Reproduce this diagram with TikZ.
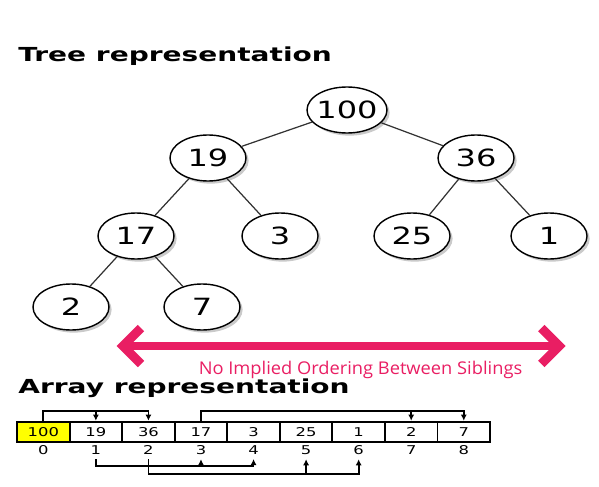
\documentclass[tikz,border=0pt]{standalone}
\usepackage{fontspec}
\usetikzlibrary{shapes.geometric,shadows,arrows.meta}
\newfontfamily\treefont[FakeStretch=1.35]{DejaVu Sans}
\newfontfamily\headfont[FakeStretch=1.45]{DejaVu Sans}
\newfontfamily\cellfont[FakeStretch=1.35]{DejaVu Sans}
\newfontfamily\notefont[FakeStretch=1.04]{Open Sans}
\definecolor{sibpink}{RGB}{233,30,99}
\definecolor{heapyellow}{RGB}{255,255,0}
\tikzset{
  heapnode/.style={ellipse,draw,line width=0.8pt,fill=white,minimum width=1.52cm,minimum height=0.92cm,inner sep=0pt,
    drop shadow={shadow xshift=1.5pt,shadow yshift=-1.5pt,opacity=0.35,fill=black!60},
    font=\treefont\fontsize{13.5}{15}\selectfont},
  heapedge/.style={black!80,line width=0.7pt},
  cell/.style={draw,line width=1.1pt,minimum width=1.0512cm,minimum height=0.4cm,inner sep=0pt,font=\cellfont\fontsize{6.9}{8}\selectfont},
  idx/.style={inner sep=2.5pt,font=\cellfont\fontsize{6.9}{8}\selectfont},
  link/.style={line width=1pt,-{Latex[length=3.5pt,width=3.5pt]}},
  sib/.style={sibpink,line width=5.1pt},
  heading/.style={anchor=base west,inner sep=0pt,font=\headfont\bfseries\fontsize{11}{13}\selectfont}
}

\begin{document}
\begin{tikzpicture}
            \useasboundingbox (0,0) rectangle (11.98,9.72);

            \node[heading] (treehead) at (0.36,8.49) {Tree representation};

            \node[heapnode,minimum width=1.6cm,inner xsep=-2pt] (n100) at (6.94,7.52) {100};
            \node[heapnode] (n19) at (4.16,6.56) {19};
            \node[heapnode] (n36) at (9.52,6.56) {36};
            \node[heapnode] (n17) at (2.72,5.00) {17};
            \node[heapnode] (n3) at (5.60,5.00) {3};
            \node[heapnode] (n25) at (8.24,5.00) {25};
            \node[heapnode] (n1) at (10.98,5.00) {1};
            \node[heapnode] (n2) at (1.42,3.58) {2};
            \node[heapnode] (n7) at (4.04,3.58) {7};
            \foreach \a/\b in {n100/n19,n100/n36,n19/n17,n19/n3,n36/n25,n36/n1,n17/n2,n17/n7}
                \draw[heapedge] (\a) -- (\b);

            \coordinate (sibL) at (2.46,2.8);
            \coordinate (sibR) at (11.186,2.8);
            \draw[sib] (sibL) -- (sibR);
            \draw[sib,line join=miter] (sibL) ++(0.36,0.36) -- (sibL) -- ++(0.36,-0.36);
            \draw[sib,line join=miter] (sibR) ++(-0.36,0.36) -- (sibR) -- ++(-0.36,-0.36);
            \node[sibpink,anchor=base,inner sep=0pt,font=\notefont\fontsize{10}{12}\selectfont] (sibnote) at (7.21,2.234) {No Implied Ordering Between Siblings};

            \node[heading] (arrayhead) at (0.36,1.85) {Array representation};

            \foreach \v/\f [count=\i from 0] in {100/heapyellow,19/white,36/white,17/white,3/white,25/white,1/white,2/white,7/white}
                \node[cell,fill=\f] (c\i) at ({0.866+1.0512*\i},1.086) {\v};
            \foreach \i in {0,...,8}
                \node[idx,anchor=base] (i\i) at ([yshift=-0.232cm]c\i.south) {\i};

            \coordinate (topbar) at (0,1.5);
            \draw[link] (c0.north) |- (topbar -| c2.north) -- (c2.north);
            \draw[link] (topbar -| c1.north) -- (c1.north);
            \draw[link] (c3.north) |- (topbar -| c8.north) -- (c8.north);
            \draw[link] (topbar -| c7.north) -- (c7.north);

            \coordinate (lowbarA) at (0,0.4);
            \coordinate (lowbarB) at (0,0.246);
            \draw[link] (i1.south) |- (lowbarA -| i4.south) -- (i4.south);
            \draw[link] (lowbarA -| i3.south) -- (i3.south);
            \draw[link] (i2.south) |- (lowbarB -| i6.south) -- (i6.south);
            \draw[link] (lowbarB -| i5.south) -- (i5.south);
        \end{tikzpicture}
\end{document}
